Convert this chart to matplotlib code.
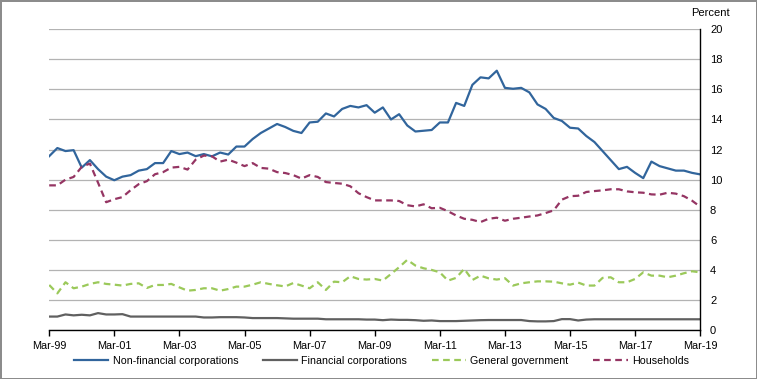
import matplotlib
matplotlib.use('Agg')
import matplotlib.pyplot as plt

plt.rcParams['font.family'] = ['Liberation Sans', 'DejaVu Sans']

# quarterly, Mar-99 .. Mar-19
tick_labels = ['Mar-99', 'Mar-01', 'Mar-03', 'Mar-05', 'Mar-07', 'Mar-09',
               'Mar-11', 'Mar-13', 'Mar-15', 'Mar-17', 'Mar-19']

non_financial = [11.56, 12.1, 11.9, 11.96, 10.8, 11.3, 10.7, 10.2, 9.96, 10.2,
                 10.3, 10.6, 10.7, 11.1, 11.1, 11.9, 11.7, 11.8, 11.56, 11.7,
                 11.55, 11.8, 11.67, 12.2, 12.2, 12.7, 13.1, 13.4, 13.7, 13.5,
                 13.24, 13.1, 13.8, 13.85, 14.4, 14.2, 14.7, 14.9, 14.8, 14.95,
                 14.45, 14.8, 14.0, 14.35, 13.6, 13.2, 13.25, 13.3, 13.8, 13.8,
                 15.1, 14.9, 16.3, 16.8, 16.73, 17.24, 16.1, 16.04, 16.1, 15.8,
                 15.0, 14.7, 14.1, 13.9, 13.45, 13.4, 12.9, 12.5, 11.9, 11.3,
                 10.7, 10.85, 10.45, 10.1, 11.2, 10.9, 10.75, 10.6, 10.6, 10.45,
                 10.35]

financial = [0.9, 0.9, 1.04, 0.98, 1.02, 0.98, 1.13, 1.04, 1.04, 1.06,
             0.9, 0.9, 0.9, 0.9, 0.9, 0.9, 0.9, 0.9, 0.9, 0.84,
             0.84, 0.86, 0.86, 0.86, 0.84, 0.8, 0.8, 0.8, 0.8, 0.78,
             0.76, 0.76, 0.76, 0.76, 0.72, 0.72, 0.72, 0.72, 0.72, 0.7,
             0.7, 0.66, 0.7, 0.68, 0.68, 0.66, 0.62, 0.64, 0.6, 0.6,
             0.6, 0.62, 0.64, 0.66, 0.67, 0.67, 0.67, 0.67, 0.67, 0.6,
             0.58, 0.58, 0.6, 0.73, 0.73, 0.64, 0.7, 0.72, 0.72, 0.72,
             0.72, 0.72, 0.72, 0.72, 0.72, 0.72, 0.72, 0.72, 0.72, 0.72,
             0.72]

government = [3.0, 2.44, 3.18, 2.78, 2.89, 3.07, 3.18, 3.07, 3.02, 2.96,
              3.07, 3.11, 2.8, 3.0, 3.0, 3.07, 2.84, 2.62, 2.67, 2.78,
              2.78, 2.62, 2.73, 2.89, 2.89, 3.02, 3.18, 3.07, 2.98, 2.9,
              3.13, 2.96, 2.78, 3.18, 2.67, 3.22, 3.18, 3.58, 3.4, 3.36,
              3.4, 3.29, 3.73, 4.18, 4.67, 4.29, 4.11, 4.0, 3.84, 3.29,
              3.47, 4.07, 3.33, 3.62, 3.44, 3.36, 3.45, 2.96, 3.11, 3.18,
              3.24, 3.24, 3.22, 3.11, 3.02, 3.16, 2.96, 2.96, 3.47, 3.51,
              3.18, 3.18, 3.4, 3.84, 3.62, 3.62, 3.51, 3.62, 3.78, 3.91,
              3.84]

households = [9.62, 9.62, 10.0, 10.18, 10.85, 11.07, 9.8, 8.5, 8.7, 8.84,
              9.3, 9.7, 9.9, 10.36, 10.5, 10.8, 10.85, 10.67, 11.33, 11.6,
              11.55, 11.2, 11.33, 11.13, 10.9, 11.1, 10.78, 10.73, 10.5, 10.44,
              10.3, 10.07, 10.3, 10.18, 9.84, 9.78, 9.73, 9.56, 9.1, 8.84,
              8.62, 8.62, 8.62, 8.58, 8.3, 8.22, 8.36, 8.1, 8.13, 7.9,
              7.62, 7.4, 7.33, 7.18, 7.4, 7.47, 7.27, 7.4, 7.47, 7.55,
              7.62, 7.78, 7.96, 8.67, 8.9, 8.93, 9.18, 9.24, 9.29, 9.36,
              9.36, 9.22, 9.16, 9.13, 9.02, 9.0, 9.13, 9.07, 8.9, 8.6,
              8.2]

x = list(range(len(non_financial)))

fig = plt.figure(figsize=(7.57, 3.79), dpi=100, edgecolor='#8c8c8c', linewidth=2)
ax = fig.add_axes([0.065, 0.129, 0.86, 0.794])

ax.plot(x, non_financial, color='#31659c', lw=1.6, label='Non-financial corporations')
ax.plot(x, financial, color='#606060', lw=1.6, label='Financial corporations')
ax.plot(x, government, color='#9bc95a', lw=1.6, dashes=(3, 2), label='General government')
ax.plot(x, households, color='#953563', lw=1.6, dashes=(3, 2), label='Households')

ax.set_xlim(0, 80)
ax.set_ylim(0, 20)
ax.set_xticks(range(0, 81, 8))
ax.set_xticklabels(tick_labels)
ax.set_yticks(range(0, 21, 2))

ax.yaxis.tick_right()
ax.grid(axis='y', color='#b3b3b3', lw=0.9)
ax.set_axisbelow(True)
for s in ['top', 'left']:
    ax.spines[s].set_visible(False)
for s in ['bottom', 'right']:
    ax.spines[s].set_color('black')
    ax.spines[s].set_linewidth(1.0)

ax.tick_params(axis='x', direction='out', length=4, width=1, pad=4, labelsize=7.8)
ax.tick_params(axis='y', length=0, pad=7, labelsize=8)
for t in ax.get_yticklabels():
    t.set_horizontalalignment('left')

fig.text(0.939, 0.966, 'Percent', ha='center', va='center', fontsize=8)

ax.legend(loc='center', bbox_to_anchor=(0.504, 0.047), bbox_transform=fig.transFigure,
          ncol=4, frameon=False, fontsize=7.7, handlelength=3.2, columnspacing=2.3,
          handletextpad=0.4)

fig.savefig('out.png', dpi=100)
